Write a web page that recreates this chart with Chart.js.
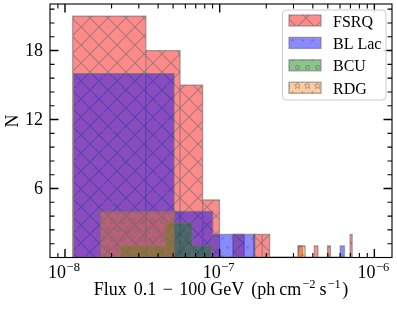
<!DOCTYPE html>
<html>
<head>
<meta charset="utf-8">
<title>Flux histogram</title>
<script src="https://cdn.jsdelivr.net/npm/chart.js@4.4.1/dist/chart.umd.min.js"></script>
<style>
  body { margin: 0; background: #fff; }
  canvas { display: block; }
</style>
</head>
<body>
<canvas id="fluxChart" width="397" height="310"></canvas>
<script>
'use strict';

// source classes, first one is drawn at the bottom
const classNames = ['FSRQ', 'BL Lac', 'BCU', 'RDG'];

// histogram counts, linear bins spread over each flux range
const fsrqRange = [1.12e-8, 7.19e-7];
const fsrqCounts = [21, 18, 15, 5, 0, 2, 0, 2, 2, 0, 0, 0, 0, 0, 1, 0, 0, 0, 1, 0, 0, 0, 1, 0, 0, 0, 0, 0, 0, 0, 0, 2];

const bllacRange = [1.135e-8, 6.41e-7];
const bllacCounts = [16, 4, 2, 2, 0, 0, 0, 0, 0, 0, 0, 0, 0, 0, 0, 1];

const bcuRange = [2.27e-8, 8.81e-8];
const bcuCounts = [1, 3, 1];

const rdgRange = [1.69e-8, 3.57e-7];
const rdgCounts = [4, 0, 0, 0, 0, 0, 0, 0, 0, 1];

// axes
const xLimits = [8e-9, 1.3e-6];
const yLimits = [0, 22.05];
const xMajorTicks = [1e-8, 1e-7, 1e-6];
const xTickExponents = ['\u22128', '\u22127', '\u22126'];
const yMajorTicks = [6, 12, 18];
const yMinorStep = 1.2;

const baseFont = '18px "Liberation Serif"';
const supFont = '12.5px "Liberation Serif"';
const legendFont = '16px "Liberation Serif"';
const edgeColor = 'rgba(110,110,110,0.6)';

//helper functions
function histPoints(range, counts) {
  const width = (range[1] - range[0]) / counts.length;
  const pts = [{x: range[0], y: 0}];
  for (let i = 0; i < counts.length; i++) {
    if (counts[i] === 0) continue;
    const x0 = range[0] + i * width;
    const x1 = x0 + width;
    pts.push({x: x0, y: 0}, {x: x0, y: counts[i]}, {x: x1, y: counts[i]}, {x: x1, y: 0});
  }
  return pts;
}

function starPath(g, cx, cy, r) {
  g.beginPath();
  for (let i = 0; i < 10; i++) {
    const rr = i % 2 === 0 ? r : r * 0.42;
    const a = -Math.PI / 2 + i * Math.PI / 5;
    const px = cx + rr * Math.cos(a);
    const py = cy + rr * Math.sin(a);
    if (i === 0) g.moveTo(px, py); else g.lineTo(px, py);
  }
  g.closePath();
}

function makePattern(face, kind) {
  const c = document.createElement('canvas');
  const w = kind === 'x' ? 18 : 10;
  const h = 18;
  c.width = w;
  c.height = h;
  const g = c.getContext('2d');
  g.fillStyle = face;
  g.fillRect(0, 0, w, h);
  g.strokeStyle = edgeColor;
  g.fillStyle = edgeColor;
  g.lineWidth = 1.1;
  if (kind === 'x') {
    g.beginPath();
    for (let o = -w; o <= w; o += w) {
      g.moveTo(o, 0); g.lineTo(o + w, h);
      g.moveTo(o, h); g.lineTo(o + w, 0);
    }
    g.stroke();
    return g.createPattern(c, 'repeat');
  }
  const spots = [[2.5, 4.5], [7.5, 13.5]];
  spots.forEach(function (s) {
    if (kind === 'dot') {
      g.beginPath();
      g.arc(s[0], s[1], 1.2, 0, Math.PI * 2);
      g.fill();
    } else if (kind === 'o') {
      g.beginPath();
      g.arc(s[0], s[1], 1.9, 0, Math.PI * 2);
      g.stroke();
    } else {
      g.lineWidth = 0.9;
      starPath(g, s[0], s[1] + 0.4, 3.3);
      g.stroke();
    }
  });
  return g.createPattern(c, 'repeat');
}

const faces = ['rgba(255,0,0,0.46)', 'rgba(0,0,255,0.46)', 'rgba(0,128,0,0.46)', 'rgba(255,127,14,0.4)'];
const hatches = ['x', 'dot', 'o', 'star'];
const ranges = [fsrqRange, bllacRange, bcuRange, rdgRange];
const counts = [fsrqCounts, bllacCounts, bcuCounts, rdgCounts];

const datasets = [];
for (let i = 0; i < classNames.length; i++) {
  datasets.push({
    label: classNames[i],
    data: histPoints(ranges[i], counts[i]),
    order: classNames.length - i,
    fill: 'origin',
    backgroundColor: makePattern(faces[i], hatches[i]),
    borderColor: edgeColor,
    borderWidth: 1.3,
    borderJoinStyle: 'miter',
    pointRadius: 0,
    tension: 0
  });
}

function richWidth(ctx, parts) {
  let w = 0;
  parts.forEach(function (p) {
    ctx.font = p.sup ? supFont : baseFont;
    w += ctx.measureText(p.t).width + (p.gap || 0);
  });
  return w;
}

function drawRich(ctx, parts, cx, baseline) {
  let x = cx - richWidth(ctx, parts) / 2;
  ctx.textAlign = 'left';
  ctx.textBaseline = 'alphabetic';
  parts.forEach(function (p) {
    ctx.font = p.sup ? supFont : baseFont;
    ctx.fillText(p.t, x, p.sup ? baseline - 7.5 : baseline);
    x += ctx.measureText(p.t).width + (p.gap || 0);
  });
}

const axesPlugin = {
  id: 'mplAxes',
  afterDraw(chart) {
    const ctx = chart.ctx;
    const a = chart.chartArea;
    const xs = chart.scales.x;
    const ys = chart.scales.y;
    ctx.save();
    ctx.strokeStyle = '#000';
    ctx.fillStyle = '#000';

    function xTick(v, len) {
      const px = xs.getPixelForValue(v);
      ctx.beginPath();
      ctx.moveTo(px, a.bottom); ctx.lineTo(px, a.bottom - len);
      ctx.moveTo(px, a.top); ctx.lineTo(px, a.top + len);
      ctx.stroke();
    }
    function yTick(v, len) {
      const py = ys.getPixelForValue(v);
      ctx.beginPath();
      ctx.moveTo(a.left, py); ctx.lineTo(a.left + len, py);
      ctx.moveTo(a.right, py); ctx.lineTo(a.right - len, py);
      ctx.stroke();
    }

    // minor ticks
    ctx.lineWidth = 1.1;
    for (let n = -9; n <= -6; n++) {
      for (let k = 2; k <= 9; k++) {
        const v = k * Math.pow(10, n);
        if (v > xLimits[0] && v < xLimits[1]) xTick(v, 4.5);
      }
    }
    for (let v = yMinorStep; v < yLimits[1]; v += yMinorStep) {
      if (yMajorTicks.some(function (m) { return Math.abs(m - v) < 1e-6; })) continue;
      yTick(v, 4.5);
    }
    // major ticks
    ctx.lineWidth = 1.4;
    xMajorTicks.forEach(function (v) { xTick(v, 8.5); });
    yMajorTicks.forEach(function (v) { yTick(v, 8.5); });

    // frame
    ctx.lineWidth = 1.1;
    ctx.strokeRect(a.left, a.top, a.right - a.left, a.bottom - a.top);

    // tick labels
    xMajorTicks.forEach(function (v, i) {
      drawRich(ctx, [{t: '10', gap: 0.5}, {t: xTickExponents[i], sup: true}], xs.getPixelForValue(v) - 1, 278);
    });
    ctx.font = baseFont;
    ctx.textAlign = 'right';
    ctx.textBaseline = 'middle';
    yMajorTicks.forEach(function (v) {
      ctx.fillText(String(v), 43, ys.getPixelForValue(v) + 1);
    });

    // axis titles
    drawRich(ctx, [
      {t: 'Flux', gap: 7},
      {t: '0.1', gap: 6.5},
      {t: '\u2212', gap: 6.5},
      {t: '100', gap: 4},
      {t: 'GeV', gap: 7},
      {t: '(ph', gap: 4},
      {t: 'cm', gap: 1},
      {t: '\u22122', sup: true, gap: 4},
      {t: 's', gap: 1},
      {t: '\u22121', sup: true, gap: 1.5},
      {t: ')'}
    ], (a.left + a.right) / 2, 295);

    ctx.save();
    ctx.translate(12.5, 121);
    ctx.rotate(-Math.PI / 2);
    ctx.font = baseFont;
    ctx.textAlign = 'center';
    ctx.textBaseline = 'middle';
    ctx.fillText('N', 0, 1);
    ctx.restore();
    ctx.restore();
  }
};

const legendPlugin = {
  id: 'boxLegend',
  afterDraw(chart) {
    const ctx = chart.ctx;
    const box = {x: 282.5, y: 10, w: 103.5, h: 90, r: 4};
    ctx.save();
    ctx.beginPath();
    ctx.roundRect(box.x, box.y, box.w, box.h, box.r);
    ctx.fillStyle = 'rgba(255,255,255,0.8)';
    ctx.fill();
    ctx.strokeStyle = '#cccccc';
    ctx.lineWidth = 1;
    ctx.stroke();

    ctx.font = legendFont;
    ctx.textAlign = 'left';
    ctx.textBaseline = 'alphabetic';
    chart.data.datasets.forEach(function (ds, i) {
      const yc = 20.5 + i * 22.4;
      ctx.fillStyle = 'rgba(255,255,255,1)';
      ctx.fillRect(289, yc - 5.5, 32, 11);
      ctx.fillStyle = ds.backgroundColor;
      ctx.fillRect(289, yc - 5.5, 32, 11);
      ctx.strokeStyle = ds.borderColor;
      ctx.lineWidth = 1.3;
      ctx.strokeRect(289, yc - 5.5, 32, 11);
      ctx.fillStyle = '#000';
      ctx.fillText(ds.label, 333, yc + 6);
    });
    ctx.restore();
  }
};

const ctx = document.getElementById('fluxChart').getContext('2d');
const chart = new Chart(ctx, {
  type: 'line',
  data: { datasets: datasets },
  options: {
    responsive: false,
    animation: false,
    devicePixelRatio: 1,
    layout: { padding: { left: 50, right: 5, top: 4, bottom: 52.5 } },
    plugins: {
      legend: { display: false },
      tooltip: { enabled: false }
    },
    scales: {
      x: { type: 'logarithmic', min: xLimits[0], max: xLimits[1], display: false },
      y: { type: 'linear', min: yLimits[0], max: yLimits[1], display: false }
    }
  },
  plugins: [axesPlugin, legendPlugin]
});
</script>
</body>
</html>
